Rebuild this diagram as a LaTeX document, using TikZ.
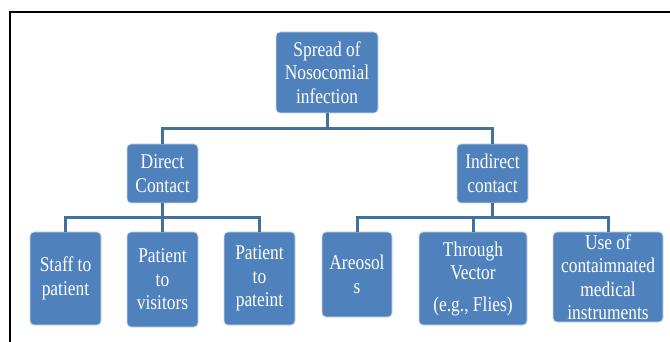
\documentclass[tikz,border=0pt]{standalone}
\usepackage{fontspec}
\setmainfont{Liberation Serif}[FakeStretch=0.83]
\begin{document}
\begin{tikzpicture}[x=1pt,y=-1pt,
  box/.style={draw=white!70!boxblue, line width=0.8pt, fill=boxblue, rounded corners=4pt,
    text=white, align=center, inner sep=0pt,
    font=\fontsize{21}{23.5}\selectfont},
  conn/.style={draw=lineblue, line width=3pt, line join=miter}]
\definecolor{boxblue}{HTML}{4F81BD}
\definecolor{lineblue}{HTML}{41719C}
\useasboundingbox (0,0) rectangle (670,342);
% outer frame (left and top edges)
\draw[line width=2pt] (10,342) -- (10,12) -- (670,12);

% junction points of the tree
\coordinate (j0) at (327,129);
\coordinate (j1) at (162.5,218);
\coordinate (j2) at (492.5,218);

% nodes
\node[box, minimum width=102, minimum height=81] (root) at (327,72.5) {Spread of\\Nosocomial\\infection};
\node[box, minimum width=71, minimum height=59] (direct) at (162.5,173.5) {Direct\\Contact};
\node[box, minimum width=71, minimum height=59] (indirect) at (492.5,173.5) {Indirect\\contact};

\node[box, minimum width=71, minimum height=93] (staff) at (65.5,278.5) {Staff to\\patient};
\node[box, minimum width=71, minimum height=95] (visit) at (162.5,279.5) {Patient\\to\\visitors};
\node[box, minimum width=71, minimum height=93] (pat) at (259.5,278.5) {Patient\\to\\pateint};

\node[box, minimum width=70, minimum height=85] (aero) at (357,274.5) {Areosol\\s};
\node[box, minimum width=108, minimum height=93] (vector) at (473,278.5) {Through\\Vector\\[8pt](e.g., Flies)};
\node[box, minimum width=110, minimum height=90] (instr) at (608,277) {Use of\\contaimnated\\medical\\instruments};

% connectors
\draw[conn] (root.south) -- (j0);
\draw[conn] (direct.north) |- (j0) -| (indirect.north);
\draw[conn] (direct.south) -- (j1);
\draw[conn] (staff.north) |- (j1) -| (pat.north);
\draw[conn] (visit.north) -- (j1);
\draw[conn] (indirect.south) -- (j2);
\draw[conn] (aero.north) |- (j2) -| (instr.north);
\draw[conn] (vector.north) -- (vector.north |- j2);
\end{tikzpicture}
\end{document}
